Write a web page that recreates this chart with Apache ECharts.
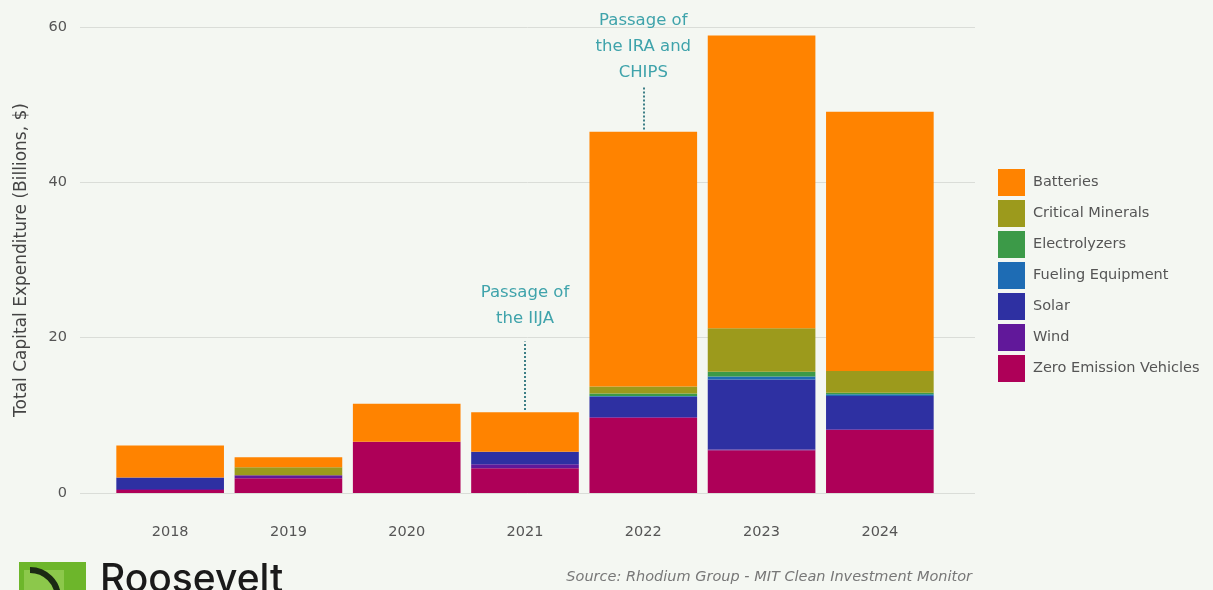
<!DOCTYPE html>
<html>
<head>
<meta charset="utf-8">
<script src="https://cdn.jsdelivr.net/npm/echarts@6/dist/echarts.min.js"></script>
<style>
html,body{margin:0;padding:0;background:#F4F7F2;}
#chart{width:1213px;height:590px;}
</style>
</head>
<body>
<div id="chart"></div>
<script>
const years = ['2018', '2019', '2020', '2021', '2022', '2023', '2024'];
const zeroEmissionVehicles = [0.4, 1.9, 6.6, 3.2, 9.7, 5.5, 8.1];
const wind = [0.1, 0.4, 0, 0.5, 0.1, 0.1, 0.1];
const solar = [1.5, 0, 0, 1.6, 2.6, 9.0, 4.3];
const fuelingEquipment = [0, 0, 0, 0, 0.1, 0.4, 0.2];
const electrolyzers = [0, 0, 0, 0, 0.3, 0.6, 0.2];
const criticalMinerals = [0, 1.0, 0, 0, 0.9, 5.6, 2.8];
const batteries = [4.1, 1.3, 4.9, 5.1, 32.8, 37.7, 33.4];
const yTicks = [0, 20, 40, 60];
const legendOrder = ['Batteries', 'Critical Minerals', 'Electrolyzers', 'Fueling Equipment', 'Solar', 'Wind', 'Zero Emission Vehicles'];
// annotations: [year, line start value, line end value, label bottom value, text]
const annotIIJA = ['2021', 10.7, 19.5, 20.8, 'Passage of\nthe IIJA'];
const annotIRA = ['2022', 46.8, 52.3, 52.5, 'Passage of\nthe IRA and\nCHIPS'];

const FONT = '"DejaVu Sans", "Open Sans", sans-serif';
const colors = {
  'Batteries': '#FF8300',
  'Critical Minerals': '#9C9A1C',
  'Electrolyzers': '#3C9A48',
  'Fueling Equipment': '#1E6CB4',
  'Solar': '#2E30A2',
  'Wind': '#61189A',
  'Zero Emission Vehicles': '#AE0058'
};
const stackSeries = [
  ['Zero Emission Vehicles', zeroEmissionVehicles],
  ['Wind', wind],
  ['Solar', solar],
  ['Fueling Equipment', fuelingEquipment],
  ['Electrolyzers', electrolyzers],
  ['Critical Minerals', criticalMinerals],
  ['Batteries', batteries]
];

const chart = echarts.init(document.getElementById('chart'));
const series = stackSeries.map(([name, data]) => ({
  name: name,
  type: 'bar',
  stack: 'total',
  xAxisIndex: 0,
  yAxisIndex: 0,
  data: data,
  barCategoryGap: '9%',
  itemStyle: {color: colors[name]},
  emphasis: {disabled: true}
}));

function annot(a) {
  return {
    lines: [[{coord: [a[0], a[1]]}, {coord: [a[0], a[2]]}]],
    point: {coord: [a[0], a[3]], value: a[4]}
  };
}
const A1 = annot(annotIIJA), A2 = annot(annotIRA);
series.push({
  name: 'annotations',
  type: 'scatter',
  xAxisIndex: 0,
  yAxisIndex: 0,
  data: [],
  silent: true,
  markLine: {
    silent: true,
    symbol: 'none',
    label: {show: false},
    lineStyle: {type: [2, 2], color: '#3d7f86', width: 2},
    data: A1.lines.concat(A2.lines)
  },
  markPoint: {
    silent: true,
    symbol: 'circle',
    symbolSize: 0.01,
    label: {
      show: true,
      position: 'top',
      distance: 0,
      formatter: p => p.data.value,
      color: '#3FA3AB',
      fontSize: 16.5,
      lineHeight: 26,
      fontFamily: FONT,
      fontWeight: 'normal',
      align: 'center'
    },
    data: [A1.point, A2.point]
  }
});

chart.setOption({
  backgroundColor: '#F4F7F2',
  animation: false,
  grid: [
    {left: 111, right: 274, top: 27, bottom: 97},
    {left: 80, right: 238, top: 27, bottom: 97}
  ],
  legend: {
    data: legendOrder,
    orient: 'vertical',
    left: 993,
    top: 164,
    itemWidth: 27,
    itemHeight: 27,
    itemGap: 4,
    icon: 'rect',
    selectedMode: false,
    textStyle: {color: '#555', fontSize: 14.5, fontFamily: FONT, padding: [0, 0, 0, 3]}
  },
  xAxis: [
    {
      type: 'category', gridIndex: 0, data: years,
      axisLine: {show: false}, axisTick: {show: false},
      axisLabel: {color: '#555', fontSize: 14.5, margin: 32, fontFamily: FONT}
    },
    {type: 'category', gridIndex: 1, data: years, show: false}
  ],
  yAxis: [
    {
      type: 'value', gridIndex: 0, min: yTicks[0], max: yTicks[yTicks.length - 1], interval: 20,
      axisLabel: {show: false}, splitLine: {show: false}, axisLine: {show: false}, axisTick: {show: false}
    },
    {
      type: 'value', gridIndex: 1, min: yTicks[0], max: yTicks[yTicks.length - 1], interval: 20,
      axisLine: {show: false}, axisTick: {show: false},
      splitLine: {lineStyle: {color: '#DADDD8', width: 1}},
      axisLabel: {color: '#555', fontSize: 14.5, margin: 13, fontFamily: FONT},
      name: 'Total Capital Expenditure (Billions, $)',
      nameLocation: 'middle',
      nameGap: 50,
      nameTextStyle: {color: '#444', fontSize: 17, fontFamily: FONT}
    }
  ],
  series: series,
  graphic: [
    {type: 'rect', shape: {x: 19, y: 562, width: 67, height: 40}, style: {fill: '#6DB62B'}, z: 10},
    {type: 'rect', shape: {x: 24, y: 570, width: 40, height: 30}, style: {fill: '#8CC84B'}, z: 10},
    {type: 'arc', shape: {cx: 30, cy: 598, r: 28, startAngle: -Math.PI / 2, endAngle: 0}, style: {stroke: '#1b2a14', lineWidth: 6, fill: null}, z: 11},
    {type: 'text', left: 100, top: 561, style: {text: 'Roosevelt', fill: '#1a1a1a', fontSize: 39, fontFamily: 'Inter, Roboto, sans-serif', fontWeight: 500}, z: 10},
    {type: 'text', right: 241, top: 570, style: {text: 'Source: Rhodium Group - MIT Clean Investment Monitor', fill: '#777', fontSize: 14.5, fontStyle: 'italic', fontFamily: FONT}, z: 10}
  ]
});
</script>
</body>
</html>
